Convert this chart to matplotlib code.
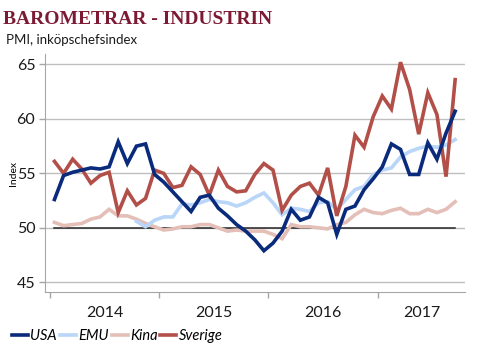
import numpy as np
import matplotlib
matplotlib.use("Agg")
import matplotlib.pyplot as plt
from matplotlib.lines import Line2D

# Monthly PMI, Jan 2014 - Sep 2017
years = ["2014", "2015", "2016", "2017"]
usa = [52.6, 54.8, 55.1, 55.3, 55.5, 55.4, 55.6, 57.9, 55.9, 57.5, 57.7, 54.9,
       54.2, 53.3, 52.4, 51.5, 52.8, 53.0, 51.8, 51.1, 50.3, 49.7, 48.9, 47.9,
       48.6, 49.7, 51.7, 50.7, 51.0, 52.8, 52.3, 49.4, 51.7, 52.0, 53.5, 54.5,
       55.6, 57.7, 57.2, 54.9, 54.9, 57.8, 56.3, 58.7, 60.7]
emu = [np.nan] * 9 + [50.6, 50.1, 50.7,
       51.0, 51.0, 52.2, 52.1, 52.3, 52.6, 52.4, 52.3, 52.0, 52.3, 52.8, 53.2,
       52.3, 51.2, 51.8, 51.7, 51.5, 52.3, 52.4, 51.7, 52.6, 53.5, 53.8, 54.9,
       55.3, 55.5, 56.5, 57.0, 57.3, 57.5, 57.4, 57.6, 58.1]
kina = [50.5, 50.2, 50.3, 50.4, 50.8, 51.0, 51.7, 51.1, 51.1, 50.8, 50.4, 50.1,
        49.8, 49.9, 50.1, 50.1, 50.3, 50.3, 50.0, 49.7, 49.8, 49.7, 49.7, 49.7,
        49.4, 49.0, 50.3, 50.1, 50.1, 50.0, 49.9, 50.3, 50.5, 51.2, 51.7, 51.4,
        51.3, 51.6, 51.8, 51.3, 51.3, 51.7, 51.4, 51.7, 52.4]
sverige = [56.1, 55.0, 56.3, 55.4, 54.1, 54.8, 55.1, 51.4, 53.4, 52.1, 52.7, 55.3,
           55.0, 53.7, 53.9, 55.6, 54.9, 53.0, 55.3, 53.8, 53.3, 53.4, 54.9, 55.9,
           55.3, 51.6, 53.0, 53.8, 54.1, 53.0, 55.5, 51.1, 53.8, 58.5, 57.4, 60.2,
           62.1, 60.9, 65.2, 62.7, 58.6, 62.4, 60.4, 54.7, 63.6]
threshold = 50

c_usa = "#0a2a7c"
c_emu = "#b9d5f8"
c_kina = "#e4bfb8"
c_swe = "#b24f48"
grid_c = "#bfbfbf"

x = np.arange(len(usa))
lw = 2.6

fig = plt.figure(figsize=(4.88, 3.58), dpi=100)
ax = fig.add_axes([0.0922, 0.184, 0.861, 0.665])

ax.set_yticks([45, 50, 55, 60, 65])
ax.yaxis.grid(True, color=grid_c, linewidth=1.0)
ax.set_axisbelow(True)

ax.plot(x, [threshold] * len(x), color="#262626", linewidth=1.1, zorder=2)
ax.plot(x, kina, color=c_kina, linewidth=lw, zorder=3, solid_joinstyle="miter")
ax.plot(x, emu, color=c_emu, linewidth=lw, zorder=4, solid_joinstyle="miter")
ax.plot(x, sverige, color=c_swe, linewidth=lw, zorder=5, solid_joinstyle="miter")
ax.plot(x, usa, color=c_usa, linewidth=lw, zorder=6, solid_joinstyle="miter")

ax.set_ylim(44.1, 65.95)
ax.set_xlim(-1.04, 45.1)

# year boundaries as ticks, year names centred in between
bounds = [12 * i - 0.5 for i in range(len(years))]
ax.set_xticks(bounds)
ax.set_xticklabels([])
ax.tick_params(axis="x", direction="out", length=4, color="#a6a6a6", width=1)
centres = [b + 6 for b in bounds[:-1]] + [(bounds[-1] + 45.1) / 2]
for c, y in zip(centres, years):
    ax.text(c, -0.06, y, transform=ax.get_xaxis_transform(), ha="center",
            va="top", fontsize=11.5, family="Lato", color="#1a1a1a")

ax.tick_params(axis="y", direction="out", length=4, color="#a6a6a6", width=1,
               labelsize=11.5, labelcolor="#1a1a1a", pad=3)
for lab in ax.get_yticklabels():
    lab.set_family("Lato")

for s in ["top", "right"]:
    ax.spines[s].set_visible(False)
ax.spines["left"].set_color("#a6a6a6")
ax.spines["bottom"].set_color("#a6a6a6")

ax.set_ylabel("Index", fontsize=7.5, family="Lato", labelpad=-1)

fig.text(0.006, 0.945, "BAROMETRAR - INDUSTRIN", fontsize=14, weight="bold",
         family="Liberation Serif", color="#7c1a33", va="center")
fig.text(0.012, 0.887, "PMI, inköpschefsindex", fontsize=9.5, family="Lato",
         color="#1a1a1a", va="center")

handles = [Line2D([], [], color=c, linewidth=2.6) for c in [c_usa, c_emu, c_kina, c_swe]]
leg = fig.legend(handles, ["USA", "EMU", "Kina", "Sverige"], loc="center left",
                 bbox_to_anchor=(0.025, 0.062), ncol=4, frameon=False,
                 handlelength=1.1, handletextpad=0.15, columnspacing=0.2,
                 borderpad=0, borderaxespad=0,
                 prop={"family": "Lato", "style": "italic", "size": 10.5})

fig.savefig("out.png", dpi=100)
